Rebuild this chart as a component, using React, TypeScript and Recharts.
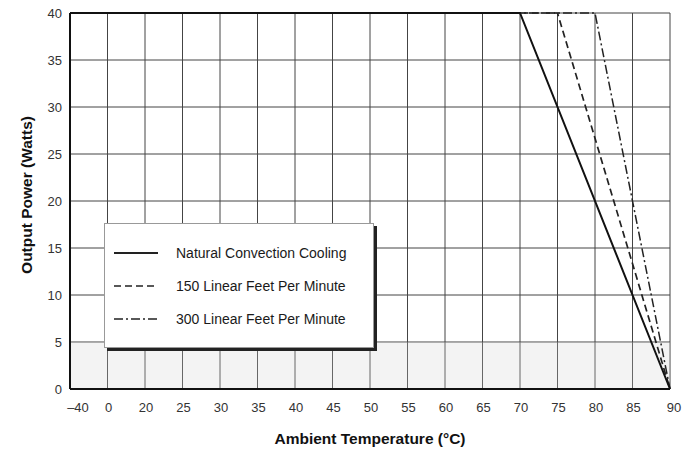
import React from 'react';
import { LineChart, Line, XAxis, YAxis, CartesianGrid, Legend, ReferenceArea } from 'recharts';

const categories = ['–40', '0', '20', '25', '30', '35', '40', '45', '50', '55', '60', '65', '70', '75', '80', '85', '90'];
const yTicks = [0, 5, 10, 15, 20, 25, 30, 35, 40];

// Output power (W) at each ambient temperature; null = not a break point (line is straight between points)
const naturalConvection = [40, null, null, null, null, null, null, null, null, null, null, null, 40, null, null, null, 0];
const lfm150 = [40, null, null, null, null, null, null, null, null, null, null, null, null, 40, null, null, 0];
const lfm300 = [40, null, null, null, null, null, null, null, null, null, null, null, null, null, 40, null, 0];

const seriesNames = ['Natural Convection Cooling', '150 Linear Feet Per Minute', '300 Linear Feet Per Minute'];

const data = categories.map((cat, i) => ({
  cat,
  natural: naturalConvection[i],
  lfm150: lfm150[i],
  lfm300: lfm300[i],
}));

const FONT = '"Liberation Sans", Arial, Helvetica, sans-serif';

const legendStyles = [
  { dash: undefined, width: 2 },
  { dash: '7 4', width: 1.6 },
  { dash: '9 3 2 3', width: 1.4 },
];

const LegendBox = () => (
  <div
    style={{
      width: 268,
      height: 123,
      background: '#fff',
      border: '1px solid #999',
      boxShadow: '3px 3px 0 #222',
      position: 'relative',
      fontFamily: FONT,
      fontSize: 14,
      color: '#1a1a1a',
    }}
  >
    {seriesNames.map((name, i) => (
      <div key={name} style={{ position: 'absolute', left: 0, top: 20 + i * 33, height: 18, display: 'flex', alignItems: 'center' }}>
        <svg width={62} height={18} style={{ display: 'block' }}>
          <line x1={9} y1={9} x2={53} y2={9} stroke="#222" strokeWidth={legendStyles[i].width} strokeDasharray={legendStyles[i].dash} />
        </svg>
        <span style={{ marginLeft: 9, whiteSpace: 'nowrap' }}>{name}</span>
      </div>
    ))}
  </div>
);

const XTick = (props: any) => {
  const { x, y, payload, index } = props;
  const dx = index === 0 ? 8 : index === categories.length - 1 ? 4 : 1;
  return (
    <text x={x + dx} y={y} dy="0.71em" textAnchor="middle" fill="#333" fontSize={13} fontFamily={FONT}>
      {payload.value}
    </text>
  );
};

export default function App() {
  return (
    <div style={{ position: 'absolute', left: 0, top: 0, width: 696, height: 455, background: '#fff' }}>
      <LineChart width={696} height={455} data={data} margin={{ top: 13, right: 26, bottom: 6, left: 10 }}>
        <ReferenceArea y1={0} y2={5} fill="#d0d0d0" fillOpacity={0.25} stroke="none" />
        <CartesianGrid stroke="#444" strokeWidth={1} />
        <XAxis
          dataKey="cat"
          type="category"
          interval={0}
          height={60}
          tickLine={false}
          tickSize={0}
          tickMargin={14}
          axisLine={{ stroke: '#111', strokeWidth: 2 }}
          tick={<XTick />}
          label={{ value: 'Ambient Temperature (°C)', position: 'insideBottom', offset: 5, fill: '#111', fontSize: 15.5, fontWeight: 700, fontFamily: FONT }}
        />
        <YAxis
          type="number"
          domain={[0, 40]}
          ticks={yTicks}
          width={60}
          tickLine={false}
          tickSize={0}
          tickMargin={8}
          axisLine={{ stroke: '#111', strokeWidth: 2 }}
          tick={{ fill: '#333', fontSize: 13, fontFamily: FONT }}
          label={{ value: 'Output Power (Watts)', angle: -90, position: 'insideLeft', offset: 16, dy: -6, fill: '#111', fontSize: 15.5, fontWeight: 700, fontFamily: FONT, style: { textAnchor: 'middle' } }}
        />
        <Line dataKey="lfm300" name={seriesNames[2]} stroke="#222" strokeWidth={1.5} strokeDasharray="9 3 2 3" dot={false} connectNulls isAnimationActive={false} />
        <Line dataKey="lfm150" name={seriesNames[1]} stroke="#222" strokeWidth={1.7} strokeDasharray="7 4" dot={false} connectNulls isAnimationActive={false} />
        <Line dataKey="natural" name={seriesNames[0]} stroke="#111" strokeWidth={2} dot={false} connectNulls isAnimationActive={false} />
        <Legend
          layout="vertical"
          align="center"
          verticalAlign="middle"
          content={<LegendBox />}
          wrapperStyle={{ position: 'absolute', left: 104, top: 223, width: 'auto', height: 'auto' }}
        />
      </LineChart>
    </div>
  );
}
